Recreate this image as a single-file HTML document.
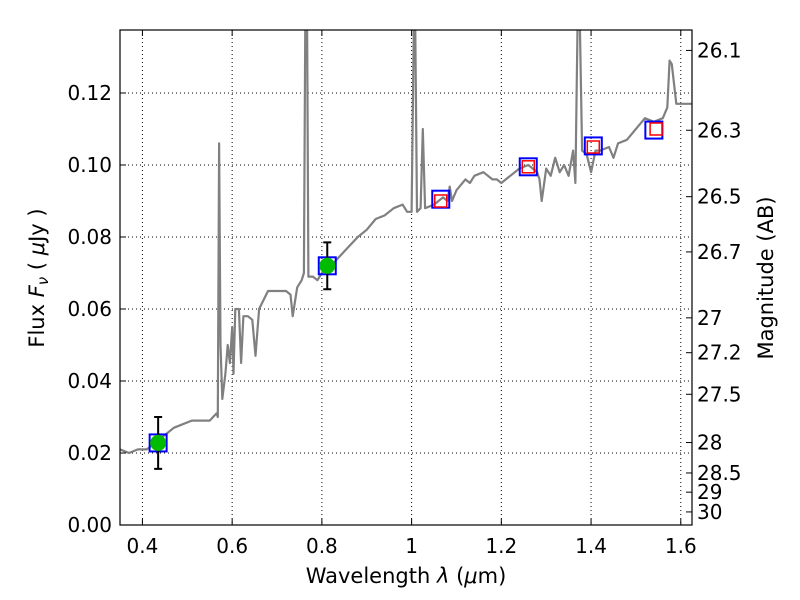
<!DOCTYPE html>
<html><head><meta charset="utf-8"><style>
body{margin:0;background:#fff;}
svg{display:block;font-family:"DejaVu Sans","Liberation Sans",sans-serif;}
</style></head><body>
<svg id="chart" width="800" height="600" viewBox="0 0 800 600" xmlns="http://www.w3.org/2000/svg">
<rect width="800" height="600" fill="#fff"/>
<defs><clipPath id="clip"><rect x="120" y="30" width="572" height="495"/></clipPath></defs>
<g id="grid"></g>
<g id="plot" clip-path="url(#clip)"></g>
<rect x="120" y="30" width="572" height="495" fill="none" stroke="#000" stroke-width="1.2"/>
<g id="axes"></g>
<text x="406" y="583" font-size="21" text-anchor="middle">Wavelength  <tspan font-style="italic">λ</tspan> (<tspan font-style="italic">μ</tspan>m)</text>
<text transform="translate(44,278) rotate(-90)" font-size="21" text-anchor="middle">Flux  <tspan font-style="italic">F<tspan font-size="15" dy="4">ν</tspan></tspan><tspan dy="-4">  ( </tspan><tspan font-style="italic">μ</tspan>Jy )</text>
<text transform="translate(773,278) rotate(-90)" font-size="21" text-anchor="middle">Magnitude (AB)</text>
</svg>
<script>
const specWave=[0.35,0.37,0.39,0.41,0.43,0.45,0.47,0.49,0.51,0.53,0.55,0.565,0.568,0.571,0.574,0.578,0.585,0.59,0.595,0.6,0.603,0.607,0.615,0.62,0.625,0.635,0.645,0.652,0.66,0.68,0.70,0.72,0.73,0.735,0.745,0.755,0.76,0.763,0.767,0.77,0.78,0.79,0.80,0.82,0.85,0.88,0.90,0.92,0.94,0.96,0.98,0.99,1.0,1.005,1.008,1.012,1.02,1.025,1.03,1.05,1.07,1.08,1.085,1.09,1.10,1.12,1.13,1.14,1.16,1.18,1.19,1.20,1.22,1.24,1.26,1.28,1.285,1.29,1.30,1.31,1.32,1.33,1.34,1.35,1.36,1.365,1.37,1.375,1.38,1.39,1.40,1.41,1.42,1.44,1.45,1.46,1.48,1.50,1.52,1.54,1.56,1.57,1.575,1.58,1.59,1.60,1.625];
const specFlux=[0.021,0.020,0.021,0.021,0.023,0.025,0.027,0.028,0.029,0.029,0.029,0.031,0.030,0.106,0.050,0.035,0.042,0.050,0.045,0.055,0.042,0.060,0.060,0.045,0.058,0.058,0.057,0.047,0.060,0.065,0.065,0.065,0.064,0.058,0.066,0.068,0.070,0.14,0.14,0.069,0.069,0.068,0.070,0.072,0.076,0.080,0.082,0.085,0.086,0.088,0.089,0.087,0.087,0.14,0.14,0.087,0.088,0.110,0.088,0.089,0.091,0.090,0.094,0.090,0.093,0.096,0.095,0.097,0.098,0.096,0.096,0.095,0.097,0.099,0.100,0.098,0.096,0.090,0.099,0.097,0.102,0.098,0.100,0.097,0.104,0.095,0.14,0.14,0.104,0.103,0.098,0.104,0.104,0.105,0.102,0.106,0.107,0.110,0.113,0.112,0.113,0.116,0.129,0.128,0.117,0.117,0.117];
const photWave=[0.435,0.812];
const photFlux=[0.0228,0.072];
const photErr=[0.0072,0.0065];
const modelWave=[0.435,0.812,1.065,1.26,1.405,1.54];
const modelFlux=[0.0228,0.072,0.0905,0.0995,0.1053,0.1097];
const obsWave=[1.065,1.26,1.405,1.545];
const obsFlux=[0.090,0.0995,0.105,0.110];
const xTicks=[0.4,0.6,0.8,1.0,1.2,1.4,1.6];
const xTickLabels=["0.4","0.6","0.8","1","1.2","1.4","1.6"];
const yTicks=[0,0.02,0.04,0.06,0.08,0.10,0.12];
const yTickLabels=["0.00","0.02","0.04","0.06","0.08","0.10","0.12"];
const magTicks=[26.1,26.3,26.5,26.7,27,27.2,27.5,28,28.5,29,30];
const magTickLabels=["26.1","26.3","26.5","26.7","27","27.2","27.5","28","28.5","29","30"];

const NS="http://www.w3.org/2000/svg";
const X0=120,X1=692,Y0=525,Y1=30,XMIN=0.35,XMAX=1.625,YMIN=0,YMAX=0.1375;
function sx(v){return X0+(v-XMIN)/(XMAX-XMIN)*(X1-X0);}
function sy(v){return Y0-(v-YMIN)/(YMAX-YMIN)*(Y0-Y1);}
function mk(tag,attrs,parent){const e=document.createElementNS(NS,tag);for(const k in attrs)e.setAttribute(k,attrs[k]);parent.appendChild(e);return e;}
const grid=document.getElementById('grid'),plot=document.getElementById('plot'),axes=document.getElementById('axes');

xTicks.forEach((t,i)=>{
  const x=sx(t);
  const g=mk('line',{x1:x,x2:x,y1:Y1,y2:Y0,stroke:'#000','stroke-width':1,'stroke-dasharray':'1,3'},grid);
  
  
  const tk=mk('path',{d:`M${x},${Y0}v-6M${x},${Y1}v6`,stroke:'#000','stroke-width':1},axes);
  
  
  const lb=mk('text',{x:x,y:553,'font-size':20,'text-anchor':'middle'},axes);
  lb.textContent=xTickLabels[i];
  
  
});
yTicks.forEach((t,i)=>{
  const y=sy(t);
  const g=mk('line',{x1:X0,x2:X1,y1:y,y2:y,stroke:'#000','stroke-width':1,'stroke-dasharray':'1,3'},grid);
  
  
  const tk=mk('path',{d:`M${X0},${y}h6`,stroke:'#000','stroke-width':1},axes);
  
  
  const lb=mk('text',{x:112,y:y+7,'font-size':20,'text-anchor':'end'},axes);
  lb.textContent=yTickLabels[i];
  
  
});
magTicks.forEach((m,i)=>{
  const f=Math.pow(10,(23.9-m)/2.5);
  const y=sy(f);
  const tk=mk('path',{d:`M${X1},${y}h-6`,stroke:'#000','stroke-width':1},axes);
  
  
  const lb=mk('text',{x:697,y:y+7,'font-size':20},axes);
  lb.textContent=magTickLabels[i];
  
  
});

const pts=specWave.map((w,i)=>sx(w).toFixed(1)+','+sy(specFlux[i]).toFixed(1)).join(' ');
const sp=mk('polyline',{points:pts,fill:'none',stroke:'#808080','stroke-width':2.2,'stroke-linejoin':'round'},plot);



modelWave.forEach((w,i)=>{
  const x=sx(w),y=sy(modelFlux[i]);
  const r=mk('rect',{x:x-8.5,y:y-8.5,width:17,height:17,fill:'none',stroke:'#0000ff','stroke-width':2},plot);
  
  
});
obsWave.forEach((w,i)=>{
  const x=sx(w),y=sy(obsFlux[i]);
  const r=mk('rect',{x:x-6,y:y-6,width:12,height:12,fill:'none',stroke:'#ff0000','stroke-width':1.5},plot);
  
  
});
photWave.forEach((w,i)=>{
  const x=sx(w),y=sy(photFlux[i]),yt=sy(photFlux[i]+photErr[i]),yb=sy(photFlux[i]-photErr[i]);
  const e=mk('path',{d:`M${x},${yt}V${yb}M${x-4},${yt}h8M${x-4},${yb}h8`,stroke:'#000','stroke-width':2},plot);
  
  
  const c=mk('circle',{cx:x,cy:y,r:8,fill:'#00bb00'},plot);
  
  
});
</script>
</body></html>
